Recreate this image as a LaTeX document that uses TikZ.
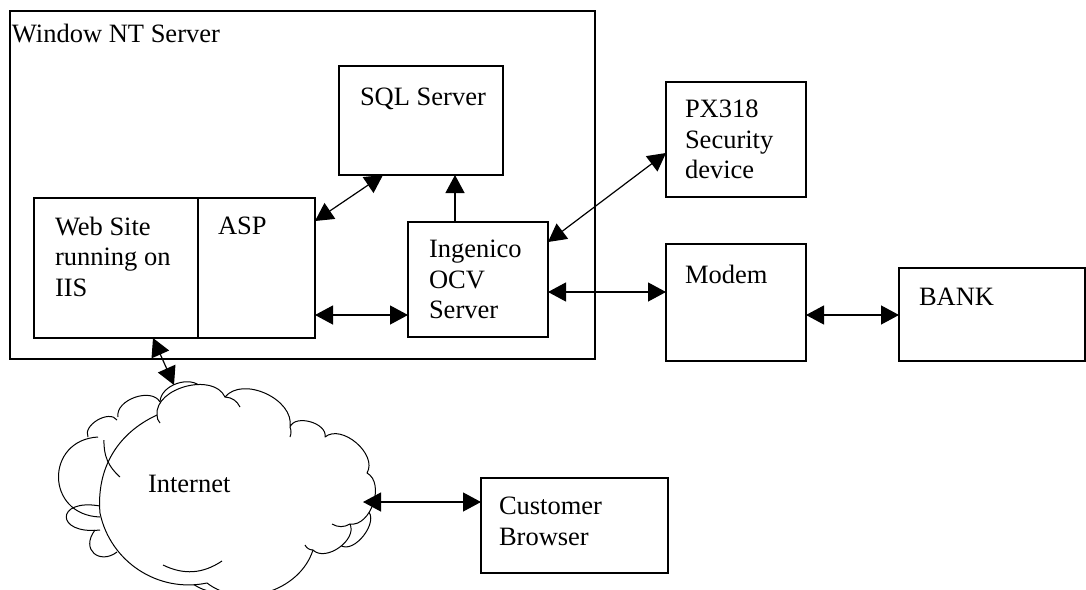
\documentclass[tikz,border=0pt]{standalone}
\usepackage{fontspec}
\setmainfont{Liberation Serif}
\usetikzlibrary{arrows.meta}
\begin{document}
\begin{tikzpicture}[x=1pt,y=-1pt,
  box/.style={draw,line width=1.2pt,anchor=north west,inner sep=0pt,outer sep=0pt},
  lbl/.style={anchor=north west,inner sep=0pt,outer sep=0pt,align=left,font=\fontsize{26.5}{30.5}\selectfont},
  link/.style={line width=1.2pt,{Triangle[length=18pt,width=19pt]}-{Triangle[length=18pt,width=19pt]}},
  onelink/.style={line width=1.2pt,-{Triangle[length=18pt,width=19pt]}},
  cloudline/.style={line width=1pt,line join=round},
]
\useasboundingbox (0,0) rectangle (1086,589);
\clip (0,0) rectangle (1086,589);
\fill[white] (0,0) rectangle (1086,589);

% boxes
\node[box,minimum width=585pt,minimum height=348pt] (nt) at (10,11) {};
\node[box,minimum width=164pt,minimum height=109pt] (sql) at (339,66) {};
\node[box,minimum width=164pt,minimum height=140pt] (web) at (34,198) {};
\node[box,minimum width=117pt,minimum height=140pt] (asp) at (198,198) {};
\node[box,minimum width=140pt,minimum height=115pt] (ocv) at (408,222) {};
\node[box,minimum width=140pt,minimum height=115pt] (px) at (666,82) {};
\node[box,minimum width=140pt,minimum height=117pt] (modem) at (666,244) {};
\node[box,minimum width=186pt,minimum height=93pt] (bank) at (899,268) {};
\node[box,minimum width=187pt,minimum height=95pt] (cust) at (481,478) {};

% cloud: back lobes
\draw[cloudline] (98,437) .. controls (45,440) and (45,515) .. (100,517);
\draw[cloudline] (88,437) to[bend left=85] (117,420);
\draw[cloudline] (118,417) to[bend left=80] (160,402);
\draw[cloudline] (160,402) to[bend left=70] (202,388);
\draw[cloudline] (100,506) .. controls (55,498) and (55,535) .. (100,530);
\draw[cloudline] (95,530) .. controls (80,550) and (100,565) .. (117,552);
\draw[cloudline] (367,510) to[bend left=90] (340,545);
\draw[cloudline] (188,580) to[bend right=40] (248,582);
% cloud: front outline
\draw[cloudline,fill=white]
  (157,415) to[bend left=80] (225,397)
  to[bend left=75] (290,427)
  to[bend left=85] (325,437)
  to[bend left=80] (367,473)
  to[bend left=80] (350,524)
  to[bend left=80] (313,550)
  to[bend left=55] (207,583)
  to[bend left=45] (100,513)
  to[bend left=35] (157,415) -- cycle;
% cloud: inner hooks
\draw[cloudline] (163,565) to[bend right=30] (222,561);
\draw[cloudline] (104,440) to[bend right=25] (120,477);
\draw[cloudline] (225,397) to[bend left=30] (240,407);
\draw[cloudline] (290,427) to[bend left=20] (290,437);
\draw[cloudline] (350,524) to[bend left=30] (332,524);
\draw[cloudline] (313,550) to[bend left=30] (305,545);
\draw[cloudline] (157,415) to[bend right=20] (160,423);

% labels
\node[lbl] (ntl) at (12,24) {Window NT Server};
\node[lbl] (sqll) at (360,88) {SQL Server};
\node[lbl] (webl) at (55,217) {Web Site\\running on\\IIS};
\node[lbl] (aspl) at (218,217) {ASP};
\node[lbl] (ocvl) at (429,240) {Ingenico\\OCV\\Server};
\node[lbl] (pxl) at (685,100) {PX318\\Security\\device};
\node[lbl] (modeml) at (685,265) {Modem};
\node[lbl] (bankl) at (919,288) {BANK};
\node[lbl] (custl) at (499,497) {Customer\\Browser};
\node[lbl] (inetl) at (148,475) {Internet};

% connectors
\coordinate (inettop) at (174,385);
\coordinate (ineteast) at (363,502);
\draw[link] ([yshift=-23pt]asp.north east) -- ([xshift=44pt]sql.south west);
\draw[onelink] (ocv.north -| 455,0) -- (sql.south -| 455,0);
\draw[link] ([yshift=-20pt]ocv.north east) -- ([yshift=-71pt]px.north west);
\draw[link] ([yshift=-117pt]asp.north east) -- ([yshift=-93pt]ocv.north west);
\draw[link] ([yshift=-70pt]ocv.north east) -- ([yshift=-48pt]modem.north west);
\draw[link] ([yshift=-71pt]modem.north east) -- ([yshift=-47pt]bank.north west);
\draw[link] ([xshift=119pt]web.south west) -- (inettop);
\draw[link] (ineteast) -- ([yshift=-24pt]cust.north west);
\end{tikzpicture}
\end{document}
